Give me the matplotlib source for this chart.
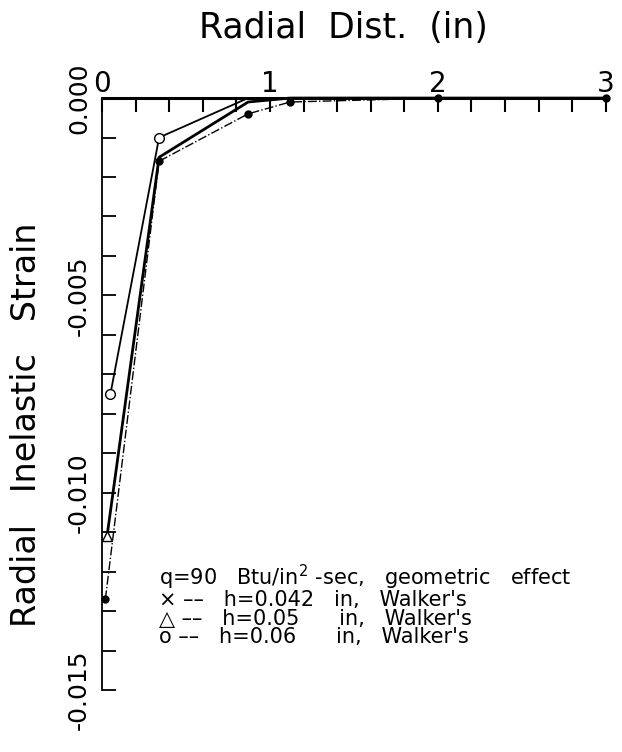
import numpy as np
import matplotlib.pyplot as plt

plt.rcParams['font.family'] = ['DejaVu Sans']

# radial distance (in) and radial inelastic strain
r_h042 = [0.02, 0.34, 0.87, 1.12, 2.0, 3.0]
e_h042 = [-0.0127, -0.0016, -0.0004, -0.0001, 0.0, 0.0]

r_h05 = [0.03, 0.34, 0.87, 1.12, 3.0]
e_h05 = [-0.0111, -0.0015, -0.0001, 0.0, 0.0]

r_h06 = [0.05, 0.34, 0.87, 1.12, 3.0]
e_h06 = [-0.0075, -0.0010, 0.0, 0.0, 0.0]

xticks = [0, 1, 2, 3]
yticks = [0.0, -0.005, -0.010, -0.015]
ytick_labels = ['0.000', '-0.005', '-0.010', '-0.015']

legend_lines = ['q=90   Btu/in$^2$ -sec,   geometric   effect',
                '\u00d7 \u2013\u2013   h=0.042   in,   Walker\'s',
                '\u25b3 \u2013\u2013   h=0.05      in,   Walker\'s',
                'o \u2013\u2013   h=0.06      in,   Walker\'s']

fig = plt.figure(figsize=(6.22, 7.52), dpi=100)
ax = fig.add_axes([0.164, 0.0824, 0.810, 0.7872])

ax.plot(r_h042, e_h042, color='black', lw=1.0, ls='-.', marker='o', ms=5,
        mfc='black', clip_on=False, zorder=3)
ax.plot(r_h05, e_h05, color='black', lw=2.0, ls='-', marker='^', ms=7,
        mfc='white', markevery=[0], clip_on=False, zorder=3)
ax.plot(r_h06, e_h06, color='black', lw=1.3, ls='-', marker='o', ms=7,
        mfc='white', markevery=[0, 1], clip_on=False, zorder=3)

ax.set_xlim(0, 3)
ax.set_ylim(-0.015, 0)

ax.spines['right'].set_visible(False)
ax.spines['bottom'].set_visible(False)
ax.spines['left'].set_linewidth(1.3)
ax.spines['top'].set_linewidth(2.2)

ax.xaxis.tick_top()
ax.set_xticks(xticks)
ax.set_xticks(np.arange(0, 3.01, 0.2), minor=True)
ax.tick_params(axis='x', which='both', direction='in', length=10, width=1.5,
               labelsize=20, pad=0)

ax.set_yticks(yticks)
ax.set_yticklabels(ytick_labels, rotation=90, va='center')
ax.set_yticks(np.arange(-0.015, 0.0001, 0.001), minor=True)
ax.tick_params(axis='y', which='both', direction='in', length=10, width=1.3,
               labelsize=18, pad=8)

fig.text(0.552, 0.963, 'Radial  Dist.  (in)', ha='center', va='center', fontsize=25)
fig.text(0.043, 0.435, 'Radial   Inelastic   Strain', ha='center', va='center',
         rotation=90, fontsize=24)

fig.text(0.255, 0.1955, '\n'.join(legend_lines), ha='left', va='center',
         fontsize=15, linespacing=0.89)

fig.savefig('out.png', dpi=100, facecolor='white')
